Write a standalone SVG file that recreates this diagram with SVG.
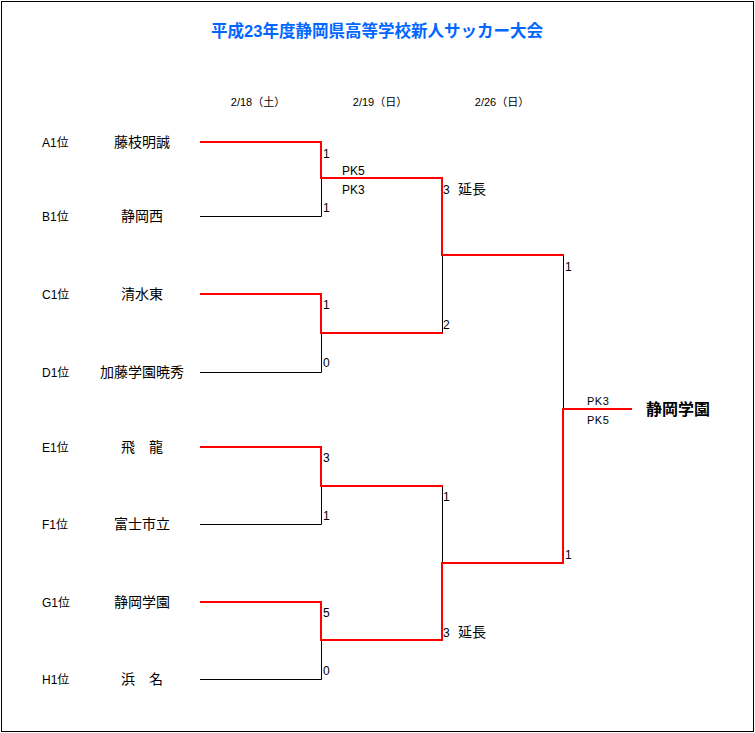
<svg xmlns="http://www.w3.org/2000/svg" width="755" height="733" viewBox="0 0 755 733">
<style>
text{font-family:"Liberation Sans","Noto Sans CJK JP",sans-serif;fill:#000}
.title{font-size:16.5px;font-weight:bold;fill:#0066ff}
.date{font-size:11px}
.pos{font-size:12px}
.team{font-size:14px}
.sc{font-size:12px}
.ext{font-size:14px}
.pk{font-size:11px;letter-spacing:0.5px}
.champ{font-size:16px;font-weight:bold}
.win{fill:none;stroke:#ff0000;stroke-width:2}
.lose{fill:none;stroke:#000;stroke-width:1}
</style>
<rect x="1.5" y="1.5" width="752" height="730" fill="#fff" stroke="#000" stroke-width="1"/>
<text class="title" x="377" y="37" text-anchor="middle">平成23年度静岡県高等学校新人サッカー大会</text>
<g id="dates">
<text class="date" x="258" y="106" text-anchor="middle">2/18（土）</text>
<text class="date" x="380" y="106" text-anchor="middle">2/19（日）</text>
<text class="date" x="502" y="106" text-anchor="middle">2/26（日）</text>
</g>
<g id="connectors">
<polyline class="lose" points="200,216.5 321.5,216.5 321.5,178"/>
<polyline class="lose" points="200,372.5 321.5,372.5 321.5,333"/>
<polyline class="lose" points="200,524.5 321.5,524.5 321.5,486"/>
<polyline class="lose" points="200,679.5 321.5,679.5 321.5,640"/>
<line class="lose" x1="442.5" y1="255" x2="442.5" y2="333"/>
<line class="lose" x1="442.5" y1="486" x2="442.5" y2="563"/>
<line class="lose" x1="563.5" y1="255" x2="563.5" y2="409"/>
<polyline class="win" points="200,142 321,142 321,178 442,178 442,255 564,255"/>
<polyline class="win" points="200,294 321,294 321,333 443,333"/>
<polyline class="win" points="200,447 321,447 321,486 443,486"/>
<polyline class="win" points="200,602 321,602 321,640 442,640 442,563 563,563 563,409 632,409"/>
</g>
<g id="teamA"><text class="pos" x="42" y="147">A1位</text><text class="team" x="142" y="147" text-anchor="middle">藤枝明誠</text></g>
<g id="teamB"><text class="pos" x="42" y="221">B1位</text><text class="team" x="142" y="221" text-anchor="middle">静岡西</text></g>
<g id="teamC"><text class="pos" x="42" y="299">C1位</text><text class="team" x="142" y="299" text-anchor="middle">清水東</text></g>
<g id="teamD"><text class="pos" x="42" y="377">D1位</text><text class="team" x="142" y="377" text-anchor="middle">加藤学園暁秀</text></g>
<g id="teamE"><text class="pos" x="42" y="452">E1位</text><text class="team" x="142" y="452" text-anchor="middle">飛　龍</text></g>
<g id="teamF"><text class="pos" x="42" y="529">F1位</text><text class="team" x="142" y="529" text-anchor="middle">富士市立</text></g>
<g id="teamG"><text class="pos" x="42" y="607">G1位</text><text class="team" x="142" y="607" text-anchor="middle">静岡学園</text></g>
<g id="teamH"><text class="pos" x="42" y="684">H1位</text><text class="team" x="142" y="684" text-anchor="middle">浜　名</text></g>
<g id="scores">
<text class="sc" x="323" y="158">1</text>
<text class="sc" x="323" y="212">1</text>
<text class="sc" x="342" y="175">PK5</text>
<text class="sc" x="342" y="194">PK3</text>
<text class="sc" x="323" y="309">1</text>
<text class="sc" x="323" y="367">0</text>
<text class="sc" x="443" y="194">3<tspan class="ext" x="458">延長</tspan></text>
<text class="sc" x="443" y="329">2</text>
<text class="sc" x="323" y="462">3</text>
<text class="sc" x="323" y="520">1</text>
<text class="sc" x="323" y="617">5</text>
<text class="sc" x="323" y="675">0</text>
<text class="sc" x="443" y="501">1</text>
<text class="sc" x="443" y="637">3<tspan class="ext" x="458">延長</tspan></text>
<text class="sc" x="565" y="271">1</text>
<text class="sc" x="565" y="559">1</text>
<text class="pk" x="587" y="405">PK3</text>
<text class="pk" x="587" y="424">PK5</text>
</g>
<g id="champion"><text class="champ" x="646" y="415">静岡学園</text></g>
</svg>
